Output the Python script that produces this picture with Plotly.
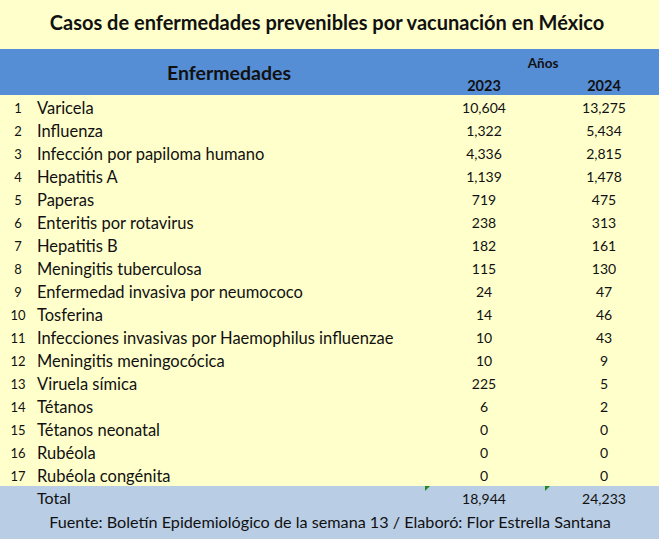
import plotly.graph_objects as go

# Datos de la tabla
enfermedades = [
    "Varicela", "Influenza", "Infección por papiloma humano", "Hepatitis A",
    "Paperas", "Enteritis por rotavirus", "Hepatitis B", "Meningitis tuberculosa",
    "Enfermedad invasiva por neumococo", "Tosferina",
    "Infecciones invasivas por Haemophilus influenzae", "Meningitis meningocócica",
    "Viruela símica", "Tétanos", "Tétanos neonatal", "Rubéola", "Rubéola congénita",
]
casos_2023 = [10604, 1322, 4336, 1139, 719, 238, 182, 115, 24, 14, 10, 10, 225, 6, 0, 0, 0]
casos_2024 = [13275, 5434, 2815, 1478, 475, 313, 161, 130, 47, 46, 43, 9, 5, 2, 0, 0, 0]
anios = ["2023", "2024"]
total_2023 = 18944
total_2024 = 24233

titulo = "Casos de enfermedades prevenibles por vacunación en México"
fuente = "Fuente: Boletín Epidemiológico de la semana 13 / Elaboró: Flor Estrella Santana"

AMARILLO = "#FFFFCC"
AZUL = "#558ED5"
AZUL_CLARO = "#B9CDE5"
FONT = "Lato"

# x en pixeles, y en "filas"
X_NUM, X_NOMBRE, X_2023, X_2024 = 18, 40, 484, 604
DY = 0.13  # el texto queda un poco alto con "middle"
filas = list(range(1, len(enfermedades) + 1))
fila_total = len(enfermedades) + 1
fila_fuente = fila_total + 1
y_txt = [f + DY for f in filas]

fig = go.Figure()

# numeros de fila
fig.add_trace(go.Scatter(
    x=[X_NUM] * len(filas), y=y_txt, mode="text",
    text=[str(i) for i in filas], textposition="middle center",
    textfont=dict(family=FONT, size=13, color="#111"), hoverinfo="skip"))

# nombres
fig.add_trace(go.Scatter(
    x=[X_NOMBRE - 3] * len(filas), y=y_txt, mode="text",
    text=enfermedades, textposition="middle right",
    textfont=dict(family=FONT, size=16.5, color="#111"), hoverinfo="skip"))

# valores
for xc, vals, tot in [(X_2023, casos_2023, total_2023), (X_2024, casos_2024, total_2024)]:
    fig.add_trace(go.Scatter(
        x=[xc] * (len(vals) + 1), y=y_txt + [fila_total + DY], mode="text",
        text=[f"{v:,}" for v in vals] + [f"{tot:,}"], textposition="middle center",
        textfont=dict(family=FONT, size=14, color="#111"), hoverinfo="skip"))

# fila total
fig.add_trace(go.Scatter(
    x=[X_NOMBRE - 3], y=[fila_total + DY - 0.05], mode="text", text=["Total"],
    textposition="middle right",
    textfont=dict(family=FONT, size=16, color="#111"), hoverinfo="skip"))

# encabezados
fig.add_trace(go.Scatter(
    x=[229, 543, X_2023, X_2024], y=[-0.52 + DY, -0.96 + DY, DY, DY], mode="text",
    text=["<b>Enfermedades</b>", "<b>Años</b>", "<b>" + anios[0] + "</b>", "<b>" + anios[1] + "</b>"],
    textposition="middle center",
    textfont=dict(family=FONT, size=[19.5, 13.5, 14.5, 14.5], color="#111"), hoverinfo="skip"))

# titulo y fuente
fig.add_trace(go.Scatter(
    x=[327, 330], y=[-2.7 + DY, fila_fuente + DY], mode="text",
    text=["<b>" + titulo + "</b>", fuente], textposition="middle center",
    textfont=dict(family=FONT, size=[20, 16.2], color="#111"), hoverinfo="skip"))

# bandas de color
fig.add_shape(type="rect", x0=0, x1=659, y0=-1.52, y1=0.478, fillcolor=AZUL,
              line_width=0, layer="below")
fig.add_shape(type="rect", x0=0, x1=659, y0=17.48, y1=20, fillcolor=AZUL_CLARO,
              line_width=0, layer="below")
# indicadores verdes de Excel
for xt in [425, 545]:
    fig.add_shape(type="path",
                  path=f"M {xt},17.48 L {xt + 5},17.48 L {xt},17.70 Z",
                  fillcolor="#1E8C1E", line_width=0)

fig.update_layout(
    width=659, height=539, margin=dict(l=0, r=0, t=0, b=0),
    paper_bgcolor=AMARILLO, plot_bgcolor=AMARILLO, showlegend=False,
    xaxis=dict(range=[0, 659], visible=False, fixedrange=True),
    yaxis=dict(range=[19.783, -3.652], visible=False, fixedrange=True),
)

fig.write_html("out.html", config={"displayModeBar": False},
               post_script="document.body.style.margin='0';")
